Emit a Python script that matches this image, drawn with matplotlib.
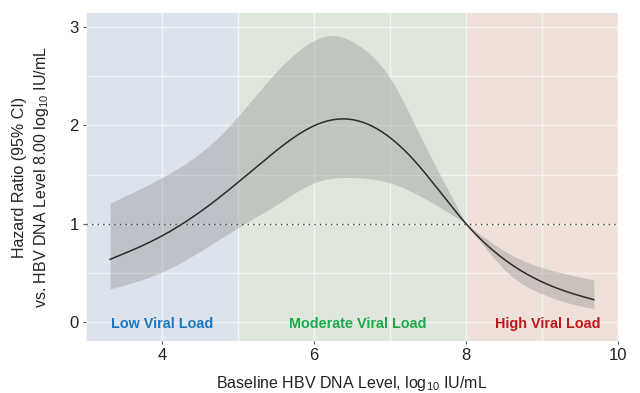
import numpy as np
import matplotlib
matplotlib.use("Agg")
import matplotlib.pyplot as plt
from matplotlib.ticker import MultipleLocator

plt.rcParams['font.family'] = ['Liberation Sans', 'DejaVu Sans']
plt.rcParams['mathtext.default'] = 'regular'

# Data (HBV DNA level, log10 IU/mL -> hazard ratio)
hr_level = [3.32, 4.0, 4.76, 5.42, 6.0, 6.38, 6.68, 7.31, 8.0, 8.62, 9.33, 9.68]
hazard_ratio = [0.64, 0.877, 1.27, 1.69, 1.995, 2.065, 2.02, 1.65, 1.00, 0.575, 0.31, 0.23]

upper_level = [3.32, 4.0, 4.76, 5.42, 6.0, 6.29, 6.55, 7.0, 7.4, 8.0, 8.62, 9.33, 9.68]
ci_upper = [1.21, 1.47, 1.89, 2.47, 2.86, 2.91, 2.83, 2.48, 1.89, 1.00, 0.675, 0.49, 0.43]

lower_level = [3.32, 4.0, 5.0, 5.54, 6.0, 6.5, 7.0, 7.4, 8.0, 8.28, 8.62, 9.0, 9.33, 9.68]
ci_lower = [0.34, 0.51, 0.96, 1.21, 1.415, 1.47, 1.415, 1.28, 1.00, 0.73, 0.456, 0.29, 0.20, 0.14]

reference_level = 8.0

regions = ["Low Viral Load", "Moderate Viral Load", "High Viral Load"]
region_bounds = [(3, 5), (5, 8), (8, 10)]
region_colors = ["#dce3ec", "#dfe7dc", "#efe1d9"]
region_text_colors = ["#1a78c2", "#1aa84a", "#c0161c"]
region_text_x = [4.0, 6.58, 9.07]


def natural_spline(x, y, xq):
    x = np.asarray(x, float); y = np.asarray(y, float)
    n = len(x)
    h = np.diff(x)
    A = np.zeros((n, n)); b = np.zeros(n)
    A[0, 0] = 1; A[-1, -1] = 1
    for i in range(1, n - 1):
        A[i, i-1] = h[i-1]
        A[i, i] = 2 * (h[i-1] + h[i])
        A[i, i+1] = h[i]
        b[i] = 6 * ((y[i+1] - y[i]) / h[i] - (y[i] - y[i-1]) / h[i-1])
    M = np.linalg.solve(A, b)
    idx = np.clip(np.searchsorted(x, xq) - 1, 0, n - 2)
    x0, x1 = x[idx], x[idx+1]; hh = x1 - x0
    t0 = x1 - xq; t1 = xq - x0
    return (M[idx] * t0**3 / (6*hh) + M[idx+1] * t1**3 / (6*hh)
            + (y[idx] / hh - M[idx] * hh / 6) * t0 + (y[idx+1] / hh - M[idx+1] * hh / 6) * t1)


def piecewise_spline(x, y, xq, knot):
    x = np.asarray(x); y = np.asarray(y)
    k = int(np.where(np.isclose(x, knot))[0][0])
    out = np.empty_like(xq)
    left = xq <= knot
    out[left] = natural_spline(x[:k+1], y[:k+1], xq[left])
    out[~left] = natural_spline(x[k:], y[k:], xq[~left])
    return out


fig = plt.figure(figsize=(6.4, 3.93), dpi=100)
ax = fig.add_axes([0.134, 0.132, 0.832, 0.835])

for (a, b), c in zip(region_bounds, region_colors):
    ax.axvspan(a, b, color=c, zorder=0, lw=0)

ax.set_xlim(3, 10)
ax.set_ylim(-0.19, 3.14)
ax.xaxis.set_major_locator(MultipleLocator(2))
ax.xaxis.set_minor_locator(MultipleLocator(1))
ax.yaxis.set_major_locator(MultipleLocator(1))
ax.yaxis.set_minor_locator(MultipleLocator(0.5))
ax.grid(True, which='both', color='white', lw=1.0, alpha=0.6, zorder=1)
ax.set_axisbelow(True)

xq = np.linspace(hr_level[0], hr_level[-1], 700)
xq = np.unique(np.append(xq, reference_level))
yc = natural_spline(hr_level, hazard_ratio, xq)
ylo = piecewise_spline(lower_level, ci_lower, xq, reference_level)
yhi = piecewise_spline(upper_level, ci_upper, xq, reference_level)

ax.fill_between(xq, ylo, yhi, color='#8a8a8a', alpha=0.36, lw=0, zorder=2)
ax.plot(xq, yc, color='#2b2b2b', lw=1.1, zorder=3)
ax.axhline(1, color='#444444', lw=1.0, ls=(0, (1, 3)), zorder=3)

for name, x, c in zip(regions, region_text_x, region_text_colors):
    ax.text(x, -0.02, name, color=c, fontsize=10.4, fontweight='bold', ha='center', va='center', zorder=4)

for s in ax.spines.values():
    s.set_visible(False)
ax.tick_params(which='major', length=2, width=0.8, color='#555555', labelsize=12, labelcolor='#222222', pad=3)
ax.tick_params(which='minor', length=0)

ax.set_xlabel("Baseline HBV DNA Level, log$_{10}$ IU/mL", fontsize=11.5, color='#222222', labelpad=8)
ax.set_ylabel("Hazard Ratio (95% CI)\nvs. HBV DNA Level 8.00 log$_{10}$ IU/mL", fontsize=11.5,
              color='#222222', labelpad=13, linespacing=1.35)

fig.savefig("out.png", dpi=100)
